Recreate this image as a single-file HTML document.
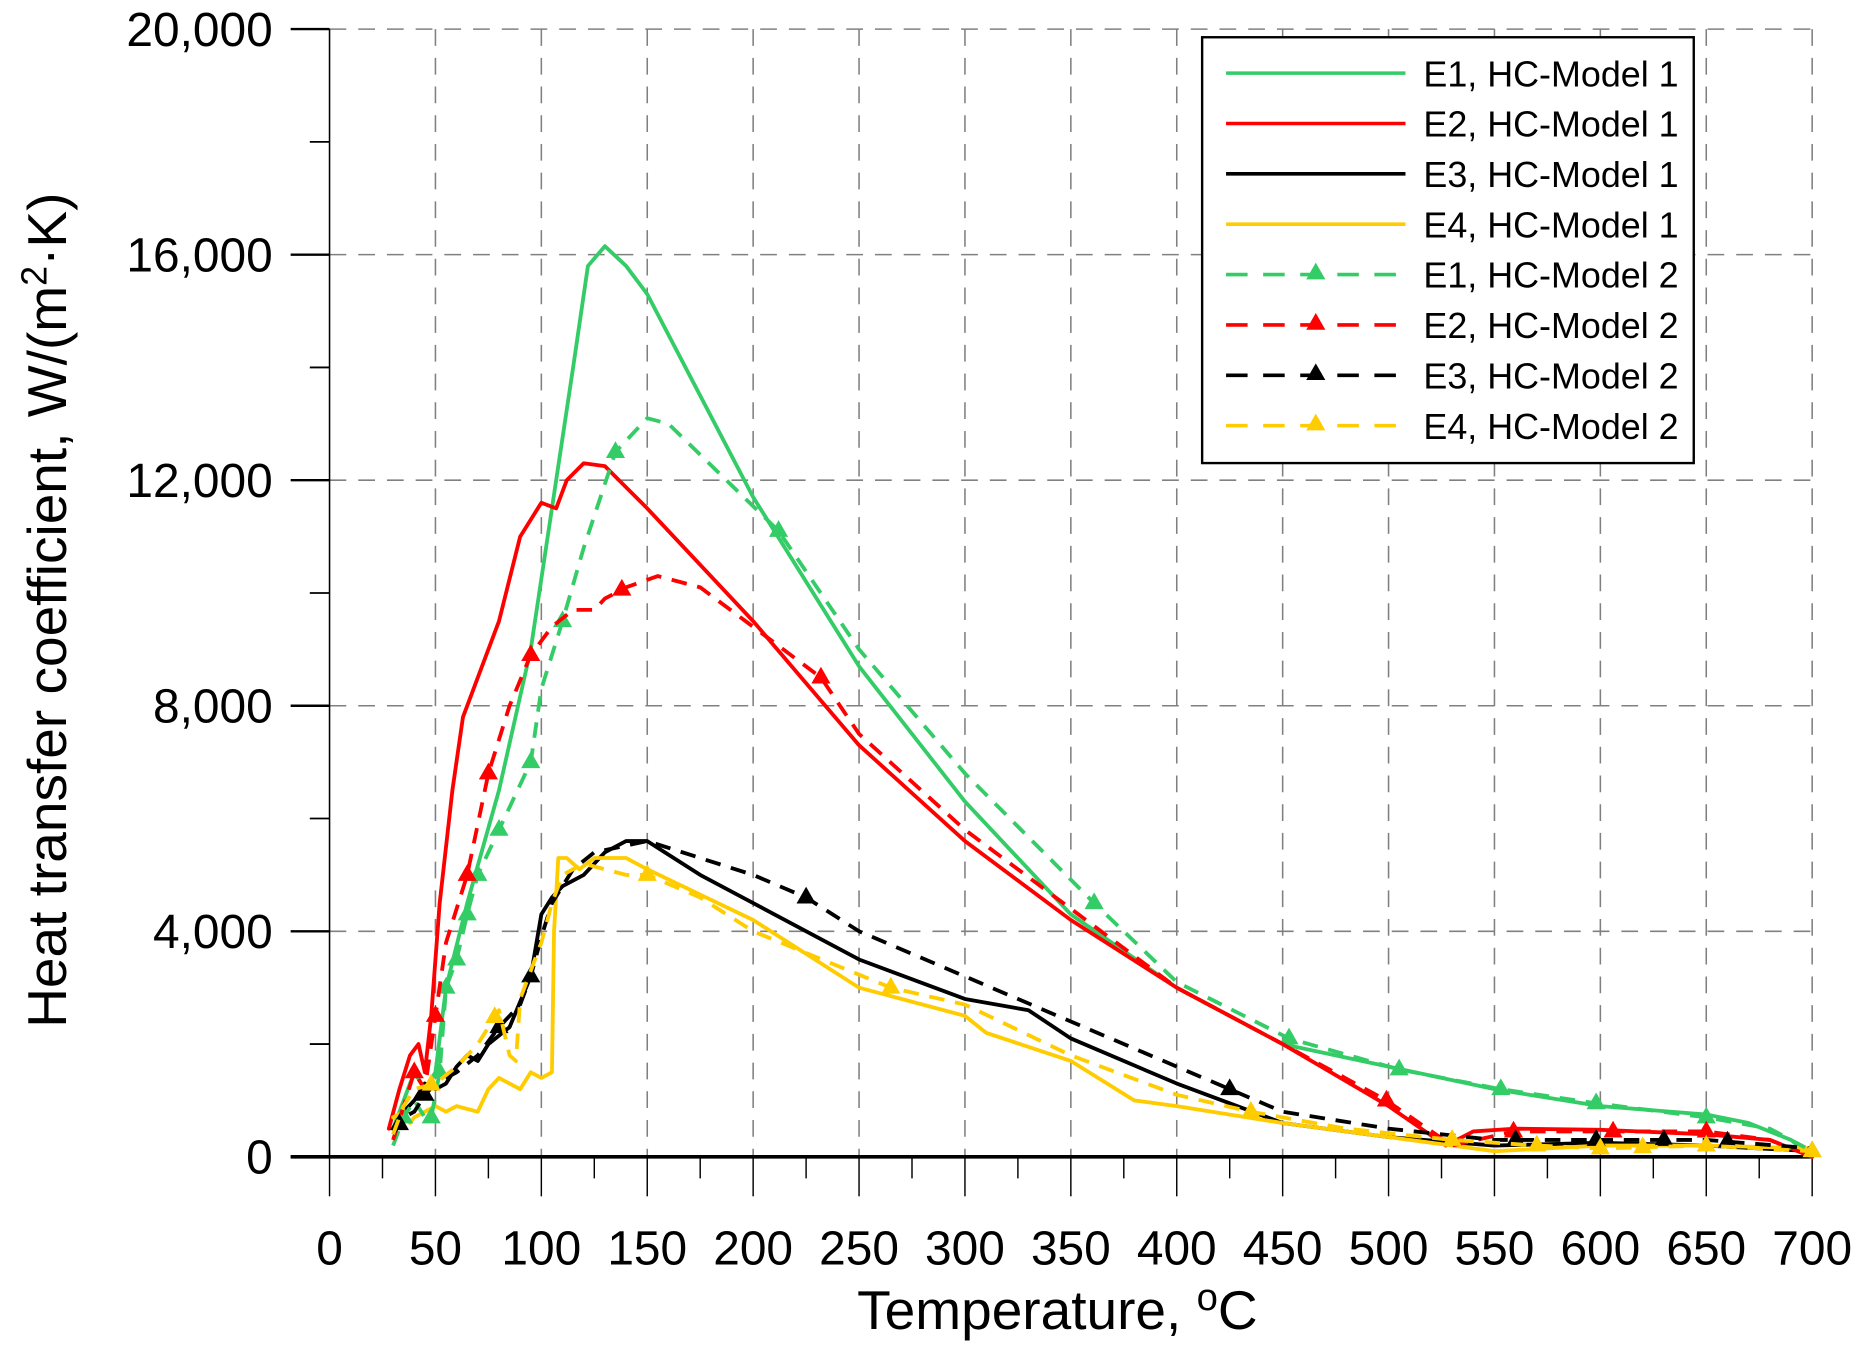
<!DOCTYPE html>
<html><head><meta charset="utf-8"><style>
html,body{margin:0;padding:0;background:#fff}
svg{display:block}
text{font-family:"Liberation Sans",Arial,sans-serif;fill:#000}
</style></head><body>
<svg id="s" width="1866" height="1346" viewBox="0 0 1560 1125" xmlns="http://www.w3.org/2000/svg">
<g id="grid" stroke="#808080" stroke-width="1.3" stroke-dasharray="14,10" fill="none"></g>
<g id="axes" stroke="#000" fill="none"></g>
<g id="series" fill="none" stroke-linejoin="round" stroke-linecap="round"></g>
<g id="labels"></g>
<text x="884" y="1111" font-size="46" text-anchor="middle">Temperature, <tspan font-size="32" dy="-16">o</tspan><tspan dy="16">C</tspan></text>
<text transform="translate(55,510) rotate(-90)" font-size="46" text-anchor="middle">Heat transfer coefficient, W/(m<tspan font-size="30" dy="-16">2</tspan><tspan dy="16">·K)</tspan></text>
<rect x="1005" y="31" width="411" height="356" fill="#fff" stroke="#000" stroke-width="2"/>
<g id="legend"></g>
</svg>
<script>
const NS="http://www.w3.org/2000/svg";
const X=t=>275.5+t*1.7707, Y=h=>967-h*0.04714;
function el(p,tag,a,txt){const e=document.createElementNS(NS,tag);for(const k in a)e.setAttribute(k,a[k]);if(txt!==undefined)e.textContent=txt;document.getElementById(p).appendChild(e);return e;}
for(let t=50;t<=700;t+=50) el('grid','line',{x1:X(t),y1:Y(20000),x2:X(t),y2:967});
for(let h=4000;h<=20000;h+=4000) el('grid','line',{x1:X(0),y1:Y(h),x2:X(700),y2:Y(h)});
el('axes','line',{x1:X(0),y1:Y(20000),x2:X(0),y2:967,'stroke-width':1.3});
el('axes','line',{x1:243,y1:967,x2:X(700),y2:967,'stroke-width':3});
for(let h=0;h<=20000;h+=2000){const maj=h%4000==0;el('axes','line',{x1:maj?243:259,y1:Y(h),x2:X(0),y2:Y(h),'stroke-width':maj?2:1.5});
 if(maj) el('labels','text',{x:228,y:Y(h)+14,'font-size':40,'text-anchor':'end'},h.toLocaleString('en-US'));}
for(let t=0;t<=700;t+=25){const maj=t%50==0;el('axes','line',{x1:X(t),y1:967,x2:X(t),y2:maj?1000:985,'stroke-width':1.2});
 if(maj) el('labels','text',{x:X(t),y:1057,'font-size':40,'text-anchor':'middle'},String(t));}
const G="#33CC66",R="#FF0000",K="#000000",Yl="#FFCC00";
const S=[
[G,0,[[30,500],[35,1000],[40,1500],[45,1200],[50,1500],[55,3000],[65,4500],[80,6500],[95,9000],[105,11500],[115,14000],[122,15800],[130,16150],[140,15800],[150,15300],[175,13500],[200,11700],[250,8700],[300,6300],[350,4300],[400,3000],[450,2000],[500,1600],[550,1200],[600,900],[650,750],[670,600],[690,300],[700,0]]],
[R,0,[[28,500],[33,1200],[38,1800],[42,2000],[45,1500],[48,2500],[52,4500],[58,6500],[63,7800],[70,8500],[80,9500],[90,11000],[100,11600],[107,11500],[112,12000],[120,12300],[130,12250],[150,11500],[200,9500],[250,7300],[300,5600],[350,4200],[400,3000],[450,2000],[500,900],[527,200],[540,450],[560,500],[600,480],[650,400],[680,300],[700,0]]],
[K,0,[[30,500],[35,800],[40,1000],[45,1300],[50,1200],[55,1300],[60,1600],[65,1800],[70,1700],[75,2000],[85,2300],[95,3200],[100,4300],[105,4600],[110,4800],[120,5000],[130,5400],[140,5600],[150,5600],[175,5000],[200,4500],[250,3500],[300,2800],[330,2600],[350,2100],[400,1300],[450,600],[500,350],[550,200],[600,250],[650,200],[700,100]]],
[Yl,0,[[30,700],[35,800],[38,600],[40,700],[50,900],[55,800],[60,900],[70,800],[75,1200],[80,1400],[85,1300],[90,1200],[95,1500],[100,1400],[105,1500],[106,4000],[108,5300],[112,5300],[118,5100],[125,5300],[140,5300],[150,5100],[200,4200],[250,3000],[300,2500],[310,2200],[350,1700],[380,1000],[400,900],[450,600],[500,350],[550,100],[600,200],[650,200],[700,150]]],
[G,1,[[30,200],[35,700],[40,1000],[45,700],[48,700],[52,1500],[55,3000],[60,3500],[65,4300],[70,5000],[80,5800],[95,7000],[100,8300],[110,9500],[120,10800],[135,12500],[150,13100],[160,13000],[212,11100],[250,9000],[300,6800],[361,4500],[400,3100],[453,2100],[505,1550],[553,1200],[598,950],[650,700],[680,500],[700,100]],[35,48,52,55,60,65,70,80,95,110,135,212,361,453,505,553,598,650,700]],
[R,1,[[30,300],[35,900],[40,1500],[45,1200],[50,2500],[55,3800],[65,5000],[75,6800],[85,8000],[95,8900],[105,9400],[115,9700],[125,9700],[130,9900],[140,10100],[155,10300],[175,10100],[200,9400],[232,8500],[250,7500],[300,5800],[350,4400],[400,3000],[450,2000],[499,1000],[530,200],[559,450],[606,450],[650,450],[680,300],[700,0]],[40,50,65,75,95,138,232,499,559,606,650]],
[K,1,[[30,400],[35,700],[40,800],[45,1100],[50,1300],[60,1500],[70,1800],[80,2300],[90,2700],[95,3200],[100,3900],[105,4500],[115,5100],[125,5400],[150,5600],[175,5300],[200,5000],[225,4600],[250,4000],[300,3200],[350,2400],[400,1600],[425,1200],[450,800],[500,500],[550,300],[600,300],[650,300],[700,150]],[33,45,80,95,225,425,560,598,630,660]],
[Yl,1,[[30,400],[35,900],[40,1200],[50,1300],[60,1600],[70,2000],[80,2600],[85,1800],[88,1700],[90,2800],[95,3300],[100,3800],[105,4500],[110,5000],[120,5200],[140,5000],[150,5000],[175,4600],[200,4000],[265,3000],[300,2700],[350,1800],[400,1100],[435,800],[480,500],[530,300],[570,200],[600,150],[650,200],[700,100]],[48,78,150,265,435,530,570,600,620,650,700]]
];
function interp(p,t){for(let i=1;i<p.length;i++){if(p[i][0]>=t){const a=p[i-1],b=p[i];const f=(t-a[0])/((b[0]-a[0])||1);return a[1]+f*(b[1]-a[1]);}}return p[p.length-1][1];}
function tri(g,x,y,c){el(g,'path',{d:`M${x},${y-9}L${x+8},${y+5}L${x-8},${y+5}Z`,fill:c,stroke:'none'});}
for(const s of S){const [c,d,p,m]=s;
 el('series','polyline',{points:p.map(q=>X(q[0])+','+Y(q[1])).join(' '),stroke:c,'stroke-width':3.2,'stroke-dasharray':d?'13,9':'none','stroke-linecap':d?'butt':'round'});
 if(m) for(const t of m) tri('series',X(t),Y(interp(p,t)),c);}
const L=["E1, HC-Model 1","E2, HC-Model 1","E3, HC-Model 1","E4, HC-Model 1","E1, HC-Model 2","E2, HC-Model 2","E3, HC-Model 2","E4, HC-Model 2"];
L.forEach((t,i)=>{const y=61+i*42.1;const c=S[i][0];
 if(i<4) el('legend','line',{x1:1025,y1:y,x2:1175,y2:y,stroke:c,'stroke-width':3});
 else {el('legend','line',{x1:1025,y1:y,x2:1168,y2:y,stroke:c,'stroke-width':3,'stroke-dasharray':'18,13'});tri('legend',1100,y-1,c);}
 el('legend','text',{x:1190,y:y+11,'font-size':30},t);});
</script>
</body></html>
